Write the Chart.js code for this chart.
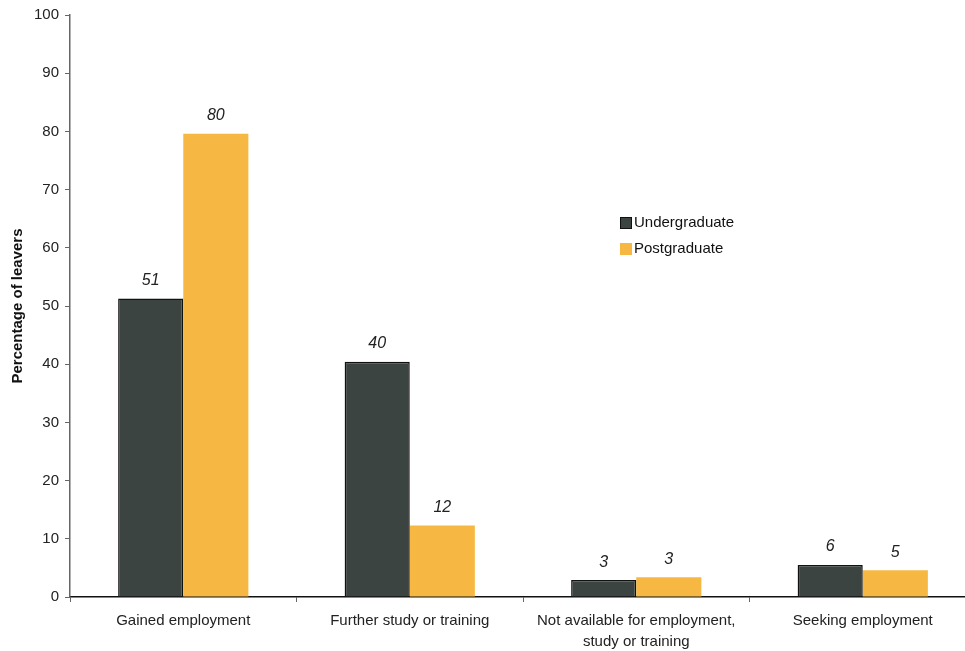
<!DOCTYPE html>
<html lang="en">
<head>
    <meta charset="UTF-8">
    <title>Destination of leavers</title>
    <script src="https://cdn.jsdelivr.net/npm/chart.js"></script>
    <style>
        html, body {
            margin: 0;
            padding: 0;
            background: white;
            overflow: hidden;
        }
        #wrap {
            width: 978px;
            height: 651px;
            position: relative;
        }
    </style>
</head>
<body>
    <div id="wrap">
        <canvas id="leaversChart"></canvas>
    </div>

    <script>
        const categories = [
            'Gained employment',
            'Further study or training',
            ['Not available for employment,', 'study or training'],
            'Seeking employment'
        ];
        const undergraduate = [51.3, 40.4, 2.9, 5.5];
        const postgraduate = [79.6, 12.3, 3.4, 4.6];
        const yTicks = [0, 10, 20, 30, 40, 50, 60, 70, 80, 90, 100];

        const UG_COLOR = '#3c4442';
        const PG_COLOR = '#f6b843';
        const FONT = '"Liberation Sans", Arial, sans-serif';

        // italic value labels above each bar
        const barValues = {
            id: 'barValues',
            afterDatasetsDraw(chart) {
                const ctx = chart.ctx;
                ctx.save();
                ctx.font = 'italic 16px ' + FONT;
                ctx.fillStyle = '#222';
                ctx.textAlign = 'center';
                ctx.textBaseline = 'middle';
                chart.data.datasets.forEach((ds, i) => {
                    chart.getDatasetMeta(i).data.forEach((bar, j) => {
                        ctx.fillText(Math.round(ds.data[j]), bar.x, bar.y - 18);
                    });
                });
                ctx.restore();
            }
        };

        // legend sitting inside the plot, to the right of the middle
        const innerLegend = {
            id: 'innerLegend',
            afterDraw(chart) {
                const ctx = chart.ctx;
                ctx.save();
                ctx.font = '15px ' + FONT;
                ctx.textBaseline = 'middle';
                chart.data.datasets.forEach((ds, i) => {
                    const y = 223 + i * 26;
                    ctx.fillStyle = ds.backgroundColor;
                    ctx.fillRect(620, y - 6, 12, 12);
                    if (ds.borderWidth) {
                        ctx.strokeStyle = ds.borderColor;
                        ctx.lineWidth = 1;
                        ctx.strokeRect(620.5, y - 5.5, 11, 11);
                    }
                    ctx.fillStyle = '#111';
                    ctx.fillText(ds.label, 634, y);
                });
                ctx.restore();
            }
        };

        new Chart(document.getElementById('leaversChart'), {
            type: 'bar',
            data: {
                labels: categories,
                datasets: [{
                    label: 'Undergraduate',
                    data: undergraduate,
                    backgroundColor: UG_COLOR,
                    borderColor: '#111',
                    borderWidth: 1.5,
                    categoryPercentage: 0.575,
                    barPercentage: 1.0
                }, {
                    label: 'Postgraduate',
                    data: postgraduate,
                    backgroundColor: PG_COLOR,
                    borderWidth: 0,
                    categoryPercentage: 0.575,
                    barPercentage: 1.0
                }]
            },
            options: {
                responsive: true,
                maintainAspectRatio: false,
                animation: false,
                layout: {
                    padding: { top: 8, right: 2, left: 9, bottom: 0 }
                },
                plugins: {
                    legend: { display: false },
                    tooltip: { enabled: false }
                },
                scales: {
                    x: {
                        grid: {
                            display: true,
                            drawOnChartArea: false,
                            tickLength: 5,
                            color: '#666'
                        },
                        border: { color: '#111', width: 1.5 },
                        ticks: {
                            color: '#222',
                            font: { family: FONT, size: 15, lineHeight: 1.4 },
                            padding: 8,
                            maxRotation: 0
                        },
                        afterFit(scale) { scale.height = 54; }
                    },
                    y: {
                        min: 0,
                        max: 100,
                        afterBuildTicks(scale) {
                            scale.ticks = yTicks.map(v => ({ value: v }));
                        },
                        grid: {
                            display: true,
                            drawOnChartArea: false,
                            tickLength: 5,
                            color: '#666'
                        },
                        border: { color: '#666', width: 1.5 },
                        ticks: {
                            color: '#222',
                            font: { family: FONT, size: 15 },
                            padding: 6
                        },
                        title: {
                            display: true,
                            text: 'Percentage of leavers',
                            color: '#111',
                            font: { family: FONT, size: 15, weight: 'bold' },
                            padding: { top: 0, bottom: 4 }
                        },
                        afterFit(scale) { scale.width = 61; }
                    }
                }
            },
            plugins: [barValues, innerLegend]
        });
    </script>
</body>
</html>
